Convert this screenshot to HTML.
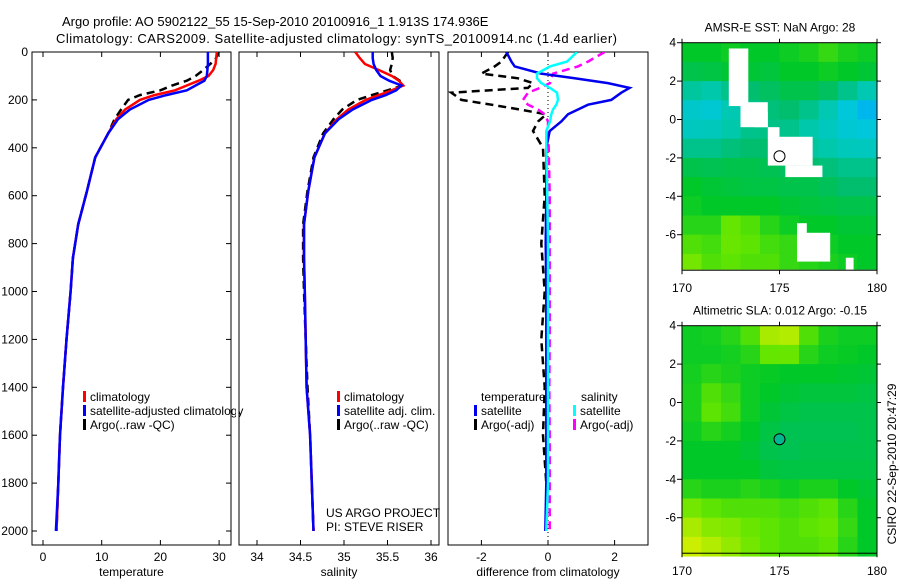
<!DOCTYPE html>
<html><head><meta charset="utf-8"><style>
html,body{margin:0;padding:0;background:#fff;}
svg text{font-family:"Liberation Sans",sans-serif;fill:#000;}
</style></head><body>
<svg id="fig" width="900" height="580" viewBox="0 0 900 580" xmlns="http://www.w3.org/2000/svg">
<defs>
<clipPath id="c1"><rect x="32" y="52" width="199" height="493"/></clipPath>
<clipPath id="c2"><rect x="239" y="52" width="200" height="493"/></clipPath>
<clipPath id="c3"><rect x="448" y="52" width="200" height="493"/></clipPath>
<clipPath id="cm1"><rect x="682" y="42.7" width="195" height="227"/></clipPath>
<clipPath id="cm2"><rect x="682" y="325.7" width="195" height="231"/></clipPath>
</defs>
<text x="62" y="26" font-size="13">Argo profile: AO 5902122_55 15-Sep-2010 20100916_1 1.913S 174.936E</text>
<text x="56" y="43" font-size="13" textLength="561">Climatology: CARS2009. Satellite-adjusted climatology: synTS_20100914.nc (1.4d earlier)</text>
</svg>
<script>
// ---- profile data ----
const depths = [0,25,50,75,100,120,140,160,180,200,240,280,340,440,580,720,860,1000,1200,1400,1600,1800,2000];
const tempClim = [29.6,29.5,29.4,29.0,28.2,26.5,24.5,22.5,19,16.5,14,12.5,11.1,8.9,7.5,6,5.1,4.7,4,3.4,2.9,2.6,2.3];
const tempSatAdj = [28.1,28.1,28.1,28.0,27.9,27.5,26,24.5,21,18,14.8,12.8,11.1,8.9,7.5,6,5.1,4.7,4,3.4,2.9,2.6,2.2];
const tempArgo = [29.9,29.5,28.5,27.3,26,24.5,22,20,16.5,14.5,13.3,12.2,11.1,8.9,7.5,6,5.1,4.7,4,3.4,2.9,2.6,2.3];
const salClim = [35.13,35.18,35.24,35.40,35.55,35.63,35.68,35.55,35.40,35.25,35.05,34.92,34.78,34.66,34.59,34.54,34.54,34.55,34.56,34.57,34.61,34.63,34.65];
const salSatAdj = [35.33,35.33,35.34,35.37,35.42,35.52,35.66,35.6,35.48,35.32,35.1,34.94,34.78,34.66,34.59,34.54,34.54,34.55,34.56,34.57,34.61,34.63,34.65];
const salArgo = [35.55,35.56,35.55,35.53,35.56,35.64,35.68,35.5,35.32,35.15,34.98,34.88,34.76,34.65,34.58,34.53,34.53,34.54,34.56,34.58,34.61,34.63,34.65];
const diffDepths = [0,40,60,90,110,130,150,170,200,220,240,260,290,330,400,600,800,1000,1200,1400,1600,1800,2000];
const diffTempSat = [-1.25,-1.1,-1.0,-0.2,0.8,1.8,2.45,2.2,1.9,1.2,0.9,0.6,0.4,0.05,-0.05,-0.05,-0.07,-0.05,-0.05,-0.05,-0.05,-0.05,-0.08];
const diffTempArgo = [-1.2,-1.4,-1.6,-2.0,-0.9,-0.45,-0.6,-2.9,-2.6,-1.7,-0.85,-0.05,-0.3,-0.45,-0.15,-0.1,-0.2,-0.1,-0.2,-0.1,-0.15,-0.05,-0.05];
const diffSalSat = [0.87,0.57,0.06,-0.33,-0.33,-0.2,0.06,0.27,0.3,0.25,0.15,0.1,0.06,-0.05,-0.05,-0.02,0,0,0,0,0,0,-0.05];
const diffSalArgo = [1.7,1.2,0.9,0.15,0.1,0.06,-0.24,-0.6,-0.75,-0.6,-0.3,-0.1,0.0,0.0,0.02,0.05,0.05,0.05,0.05,0.04,0.05,0.05,0.05];
const depthTicks = [0,200,400,600,800,1000,1200,1400,1600,1800,2000];
const tempTicks = [0,10,20,30];
const salTicks = [34,34.5,35,35.5,36];
const diffTicks = [-2,0,2];
// ---- map data (rows lat 4 -> -8, cols lon 170 -> 180) ----
const mapLons = [170,171,172,173,174,175,176,177,178,179];
const mapLats = [4,3,2,1,0,-1,-2,-3,-4,-5,-6,-7];
const sstGrid = [
[0.6,0.6,0.62,0.6,0.6,0.62,0.64,0.68,0.64,0.62],
[0.55,0.56,0.58,0.58,0.57,0.6,0.6,0.62,0.6,0.58],
[0.42,0.4,0.45,0.5,0.52,0.55,0.55,0.52,0.45,0.38],
[0.32,0.3,0.38,0.45,0.48,0.5,0.45,0.38,0.28,0.18],
[0.35,0.36,0.4,0.45,0.46,0.45,0.4,0.35,0.3,0.28],
[0.45,0.45,0.48,0.5,0.5,0.45,0.42,0.4,0.36,0.35],
[0.55,0.54,0.55,0.55,0.54,0.52,0.5,0.48,0.45,0.45],
[0.6,0.58,0.57,0.56,0.56,0.55,0.55,0.53,0.5,0.5],
[0.62,0.6,0.6,0.6,0.6,0.58,0.57,0.56,0.55,0.55],
[0.66,0.66,0.75,0.72,0.66,0.62,0.6,0.6,0.58,0.58],
[0.72,0.7,0.76,0.74,0.7,0.68,0.64,0.62,0.6,0.6],
[0.78,0.72,0.74,0.72,0.72,0.68,0.66,0.64,0.62,0.6]];
const slaGrid = [
[0.62,0.63,0.66,0.72,0.88,0.9,0.72,0.64,0.62,0.62],
[0.62,0.62,0.63,0.66,0.75,0.76,0.66,0.62,0.61,0.6],
[0.63,0.66,0.64,0.62,0.61,0.6,0.6,0.6,0.59,0.58],
[0.64,0.72,0.68,0.62,0.6,0.58,0.57,0.57,0.57,0.56],
[0.64,0.74,0.7,0.62,0.58,0.56,0.55,0.55,0.55,0.55],
[0.62,0.66,0.63,0.6,0.56,0.54,0.54,0.54,0.54,0.55],
[0.6,0.6,0.6,0.58,0.55,0.54,0.55,0.55,0.55,0.55],
[0.6,0.6,0.6,0.6,0.57,0.56,0.56,0.56,0.56,0.56],
[0.66,0.64,0.64,0.66,0.64,0.62,0.64,0.64,0.6,0.58],
[0.78,0.74,0.72,0.72,0.72,0.7,0.72,0.74,0.66,0.6],
[0.88,0.82,0.8,0.76,0.74,0.72,0.74,0.76,0.68,0.6],
[0.95,0.9,0.84,0.78,0.74,0.72,0.72,0.74,0.66,0.6]];
// NaN (missing SST) regions: [lonMin, lonMax, latMax, latMin]
const sstMissing = [[172.4,173.4,3.7,0.7],[173.0,174.4,0.9,-0.4],[173.7,174.4,0.4,-0.4],[174.4,175.0,-0.4,-2.4],[175.0,176.7,-0.9,-2.4],[175.3,177.2,-2.4,-3.0],[175.9,176.4,-5.4,-6.6],[175.9,177.6,-5.9,-7.4],[178.4,178.8,-7.2,-7.9]];
const argoLon = 175.0, argoLat = -1.913;
const mapLatTicks = [4,2,0,-2,-4,-6];
const mapLonTicks = [170,175,180];

const NS='http://www.w3.org/2000/svg';
const svg=document.getElementById('fig');
function mk(tag,attrs,parent){const e=document.createElementNS(NS,tag);for(const k in attrs)e.setAttribute(k,attrs[k]);(parent||svg).appendChild(e);return e;}
function txt(s,attrs,parent){const e=mk('text',attrs,parent);e.textContent=s;return e;}

const yD=d=>52+d*0.2395;
const panels=[
 {x0:32,x1:231,clip:'c1',sx:v=>43+v*5.87,ticks:tempTicks,label:'temperature',name:'temperature-panel'},
 {x0:239,x1:439,clip:'c2',sx:v=>257+(v-34)*87,ticks:salTicks,label:'salinity',name:'salinity-panel'},
 {x0:448,x1:648,clip:'c3',sx:v=>548+v*33.3,ticks:diffTicks,label:'difference from climatology',name:'difference-panel'}];

function drawLine(p,xs,ys,color,dash,name){
  const pts=xs.map((v,i)=>p.sx(v).toFixed(1)+','+yD(ys[i]).toFixed(1)).join(' ');
  const a={points:pts,fill:'none',stroke:color,'stroke-width':2.5,'clip-path':'url(#'+p.clip+')'};
  if(dash)a['stroke-dasharray']=dash;
  const e=mk('polyline',a);
  
  
}

panels.forEach((p,pi)=>{
  const r=mk('rect',{x:p.x0,y:52,width:p.x1-p.x0,height:493,fill:'#fff',stroke:'#000','stroke-width':1});
  
  
  p.ticks.forEach(t=>{
    const x=p.sx(t);
    mk('line',{x1:x,x2:x,y1:545,y2:540,stroke:'#000'});
    mk('line',{x1:x,x2:x,y1:52,y2:57,stroke:'#000'});
    const l=txt(String(t),{x:x,y:561,'font-size':12,'text-anchor':'middle'});
    
    
  });
  const at=txt(p.label,{x:(p.x0+p.x1)/2,y:576,'font-size':12,'text-anchor':'middle'});
  
  
});
depthTicks.forEach(d=>{
  const y=yD(d);
  mk('line',{x1:32,x2:37,y1:y,y2:y,stroke:'#000'});
  mk('line',{x1:231,x2:226,y1:y,y2:y,stroke:'#000'});
  const l=txt(String(d),{x:28,y:y+4,'font-size':12,'text-anchor':'end'});
  
  
});
// zero line in diff panel
const zl=mk('line',{x1:548,x2:548,y1:52,y2:545,stroke:'#000','stroke-dasharray':'1,3'});



const P=panels;
drawLine(P[0],tempArgo,depths,'#000','8,5','temp-argo-line');
drawLine(P[0],tempClim,depths,'#f00',null,'temp-climatology-line');
drawLine(P[0],tempSatAdj,depths,'#00f',null,'temp-satellite-line');
drawLine(P[1],salArgo,depths,'#000','8,5','sal-argo-line');
drawLine(P[1],salClim,depths,'#f00',null,'sal-climatology-line');
drawLine(P[1],salSatAdj,depths,'#00f',null,'sal-satellite-line');
drawLine(P[2],diffTempArgo,diffDepths,'#000','8,5','diff-temp-argo-line');
drawLine(P[2],diffSalArgo,diffDepths,'#f0f','8,5','diff-sal-argo-line');
drawLine(P[2],diffTempSat,diffDepths,'#00e',null,'diff-temp-satellite-line');
drawLine(P[2],diffSalSat,diffDepths,'#0ff',null,'diff-sal-satellite-line');

function legend(x,y,color,label,clip){
  const b=mk('rect',{x:x,y:y-10,width:3,height:11,fill:color});
  
  
  const a={x:x+7,y:y,'font-size':12};
  const t=txt(label,a);
  
  
}
legend(83,401,'#f00','climatology');
legend(83,415,'#00f','satellite-adjusted climatology');
legend(83,429,'#000','Argo(..raw -QC)');
// cover overflow of legend text by panel 2 gap
const gap=mk('rect',{x:236,y:405,width:2.5,height:14,fill:'#fff'});
legend(337,401,'#f00','climatology');
legend(337,415,'#00f','satellite adj. clim.');
legend(337,429,'#000','Argo(..raw -QC)');
const pr1=txt('US ARGO PROJECT',{x:326,y:517,'font-size':12});


const pr2=txt('PI: STEVE RISER',{x:326,y:531,'font-size':12});


const lt=txt('temperature',{x:481,y:401,'font-size':12});


const ls=txt('salinity',{x:581,y:401,'font-size':12});


legend(474,415,'#00e','satellite');
legend(474,429,'#000','Argo(-adj)');
legend(573,415,'#0ff','satellite');
legend(573,429,'#f0f','Argo(-adj)');

// ---- maps ----
const stops=[[0,[0,140,255]],[0.25,[0,200,230]],[0.4,[0,200,170]],[0.5,[0,190,110]],[0.6,[0,200,40]],[0.75,[100,230,0]],[1,[230,240,0]]];
function cmap(v){for(let i=1;i<stops.length;i++){if(v<=stops[i][0]){const [a,ca]=stops[i-1],[b,cb]=stops[i];const f=(v-a)/(b-a);return 'rgb('+ca.map((c,k)=>Math.round(c+(cb[k]-c)*f)).join(',')+')';}}return 'rgb(230,240,0)';}
function drawMap(top,grid,clip,title,name,filledCircle,missing){
  const sx=lon=>682+(lon-170)*19.5, sy=lat=>top+(4-lat)*19.2;
  const g=mk('g',{'clip-path':'url(#'+clip+')'});
  
  
  grid.forEach((row,ri)=>row.forEach((v,ci)=>{
    const c=mk('rect',{x:sx(mapLons[ci]),y:sy(mapLats[ri]),width:20,height:19.7,fill:cmap(v)},g);
    
    
  }));
  if(missing)missing.forEach(m=>{
    const w=mk('rect',{x:sx(m[0]),y:sy(m[2]),width:sx(m[1])-sx(m[0]),height:sy(m[3])-sy(m[2]),fill:'#fff'},g);
    
    
  });
  const bottom=sy(-7.85);
  const fr=mk('rect',{x:682,y:top,width:195,height:bottom-top,fill:'none',stroke:'#000'});
  
  
  mapLatTicks.forEach(t=>{
    const y=sy(t);
    mk('line',{x1:677,x2:682,y1:y,y2:y,stroke:'#000'});
    mk('line',{x1:877,x2:881,y1:y,y2:y,stroke:'#000'});
    const l=txt(String(t),{x:676,y:y+4,'font-size':12,'text-anchor':'end'});
    
    
  });
  mapLonTicks.forEach(t=>{
    const x=sx(t);
    mk('line',{x1:x,x2:x,y1:top,y2:top-4,stroke:'#000'});
    mk('line',{x1:x,x2:x,y1:bottom,y2:bottom+4,stroke:'#000'});
    const l=txt(String(t),{x:x,y:bottom+22,'font-size':12,'text-anchor':'middle'});
    
    
  });
  const ci=mk('circle',{cx:sx(argoLon),cy:sy(argoLat),r:5.5,fill:filledCircle?'#00b890':'none',stroke:'#000','stroke-width':1});
  
  
  const tt=txt(title,{x:780,y:top-11,'font-size':12,'text-anchor':'middle'});
  
  
}
drawMap(42.7,sstGrid,'cm1','AMSR-E SST: NaN Argo: 28','sst-map',false,sstMissing);
drawMap(325.7,slaGrid,'cm2','Altimetric SLA: 0.012 Argo: -0.15','sla-map',true,null);
const cs=txt('CSIRO 22-Sep-2010 20:47:29',{x:0,y:0,'font-size':12,'text-anchor':'middle',transform:'translate(896,464) rotate(-90)'});


</script>
</body></html>
